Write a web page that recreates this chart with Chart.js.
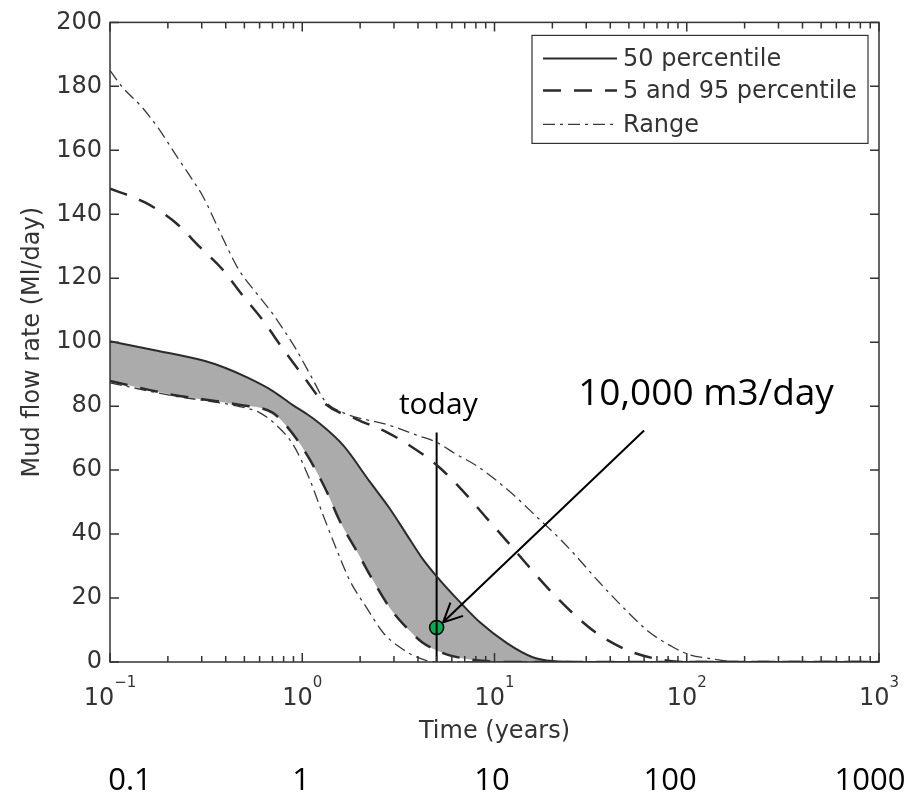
<!DOCTYPE html>
<html>
<head>
<meta charset="utf-8">
<title>Mud flow rate</title>
<script src="https://cdn.jsdelivr.net/npm/chart.js@4.4.1/dist/chart.umd.min.js"></script>
<style>
  html, body { margin: 0; padding: 0; background: #fff; }
  canvas { display: block; }
</style>
</head>
<body>
<canvas id="mudChart" width="923" height="796"></canvas>
<script>
// values: time in years, flow in Ml/day
const p50Years = [0.1, 0.171, 0.312, 0.396, 0.52, 0.70, 0.885, 1.07, 1.19, 1.63, 2.25, 2.85, 3.48, 4.2, 5.0, 6.6, 8.4, 11.6, 15.8, 20, 30, 1000];
const p50Flow  = [100.3, 97.5, 94.1, 92, 88.9, 84.8, 80.5, 77.3, 75.3, 67.8, 56.3, 48, 40, 32.5, 26.8, 18.8, 12.4, 5.9, 1.5, 0.3, 0, 0];

const p5Years = [0.1, 0.21, 0.46, 0.70, 0.80, 0.935, 1.09, 1.34, 1.57, 1.92, 2.34, 2.85, 3.48, 4.2, 5.4, 6.8, 9, 12, 1000];
const p5Flow  = [87.9, 83.6, 80.5, 78, 74.8, 69.7, 63.5, 53.3, 44, 34.7, 25.4, 17, 10.8, 6.2, 2.8, 1.2, 0.3, 0, 0];

const p95Years = [0.1, 0.152, 0.218, 0.294, 0.383, 0.49, 0.625, 0.79, 1.01, 1.3, 1.92, 2.76, 3.6, 5.0, 6.8, 9.1, 11.6, 15.3, 19.5, 25.6, 34, 49, 67, 100, 1000];
const p95Flow  = [148, 143.7, 137.5, 129.7, 122.9, 114.6, 106.8, 98.1, 89.5, 81, 75.9, 71.8, 67.8, 61.6, 53.7, 45, 37.8, 29.4, 22.3, 15.2, 9, 3.7, 1.2, 0, 0];

const rangeHiYears = [0.1, 0.115, 0.147, 0.178, 0.223, 0.267, 0.305, 0.383, 0.464, 0.58, 0.70, 0.81, 0.92, 1.12, 1.31, 1.63, 2.85, 3.95, 5.0, 6.3, 8.1, 12, 17.2, 21.9, 26.5, 35, 49, 64, 85, 104, 128, 190, 1000];
const rangeHiFlow  = [185, 180, 173.4, 167, 158, 151, 145.5, 133, 123, 115.2, 109, 103.4, 98.2, 89, 81.7, 78, 74, 70.9, 68.7, 65, 61.3, 53.3, 44.5, 38.5, 33.2, 25, 15.8, 9.3, 4.6, 2.2, 1.2, 0, 0];

const rangeLoYears = [0.1, 0.21, 0.46, 0.6, 0.75, 0.9, 1.09, 1.28, 1.52, 1.77, 2.16, 2.65, 3.22, 3.95, 5, 1000];
const rangeLoFlow  = [87.3, 83.3, 80, 78, 73.5, 67.8, 57.3, 46.1, 34.7, 25.4, 17, 9, 4.6, 1.5, 0, 0];

const legendLabels = ['50 percentile', '5 and 95 percentile', 'Range'];
const xMajorTicks = [0.1, 1, 10, 100, 1000];
const xTickExponents = ['\u22121', '0', '1', '2', '3'];

// annotations
const todayYears = 5;
const todayLineTop = 71.8;
const todayFlow = 10.8;            // 10,000 m3/day
const arrowFrom = { x: 60, y: 72.4 };
const arrowTo = { x: 5.4, y: 12.4 };
const todayLabel = { text: 'today', x: 5.1, y: 77.4 };
const rateLabel = { text: '10,000 m3/day', x: 126, y: 80.5 };
const bottomLabels = ['0.1', '1', '10', '100', '1000'];
const bottomLabelYears = [0.127, 0.985, 9.7, 82, 898];

const lineColor = '#2b2b2b';
const dashStyle = [18, 13];
const rangeDash = [12, 5, 3, 5];

function toPoints(xs, ys) {
    return xs.map((x, i) => ({ x: x, y: ys[i] }));
}

const curve = {
    pointRadius: 0,
    borderColor: lineColor,
    cubicInterpolationMode: 'monotone',
    fill: false
};

const extras = {
    id: 'extras',
    afterDatasetsDraw(chart) {
        const { ctx, chartArea: a, scales: { x, y } } = chart;
        ctx.save();

        // frame and inward ticks
        ctx.strokeStyle = '#333';
        ctx.lineWidth = 1.5;
        ctx.beginPath();
        x.ticks.forEach(t => {
            const px = x.getPixelForValue(t.value);
            const len = t.major ? 9 : 6;
            ctx.moveTo(px, a.bottom); ctx.lineTo(px, a.bottom - len);
            ctx.moveTo(px, a.top); ctx.lineTo(px, a.top + len);
        });
        y.ticks.forEach(t => {
            const py = y.getPixelForValue(t.value);
            ctx.moveTo(a.left, py); ctx.lineTo(a.left + 9, py);
            ctx.moveTo(a.right, py); ctx.lineTo(a.right - 9, py);
        });
        ctx.stroke();
        ctx.strokeRect(a.left, a.top, a.right - a.left, a.bottom - a.top);

        // x tick labels 10^n
        ctx.fillStyle = '#333';
        ctx.textBaseline = 'alphabetic';
        ctx.textAlign = 'left';
        xMajorTicks.forEach((v, i) => {
            const px = x.getPixelForValue(v);
            ctx.font = '24px "DejaVu Sans"';
            const wb = ctx.measureText('10').width;
            ctx.font = '15px "DejaVu Sans"';
            const ws = ctx.measureText(xTickExponents[i]).width;
            const x0 = px - (wb + ws) / 2;
            ctx.font = '24px "DejaVu Sans"';
            ctx.fillText('10', x0, a.bottom + 43);
            ctx.font = '15px "DejaVu Sans"';
            ctx.fillText(xTickExponents[i], x0 + wb, a.bottom + 25);
        });

        // legend
        const lx = a.right - 347, ly = a.top + 13;
        ctx.fillStyle = '#fff';
        ctx.fillRect(lx, ly, 336, 108);
        ctx.lineWidth = 1.2;
        ctx.strokeStyle = '#333';
        ctx.strokeRect(lx, ly, 336, 108);
        const rows = [23, 55, 89];
        const legendSets = [0, 1, 3];
        ctx.font = '24px "DejaVu Sans"';
        ctx.textBaseline = 'middle';
        legendSets.forEach((di, i) => {
            const ds = chart.data.datasets[di];
            const ry = ly + rows[i];
            ctx.strokeStyle = ds.borderColor;
            ctx.lineWidth = ds.borderWidth;
            ctx.setLineDash(ds.borderDash || []);
            ctx.beginPath();
            ctx.moveTo(lx + 11, ry);
            ctx.lineTo(lx + 85, ry);
            ctx.stroke();
            ctx.setLineDash([]);
            ctx.fillStyle = '#333';
            ctx.fillText(legendLabels[i], lx + 91, ry + 1);
        });

        // arrow to the green point
        const ax0 = x.getPixelForValue(arrowFrom.x), ay0 = y.getPixelForValue(arrowFrom.y);
        const ax1 = x.getPixelForValue(arrowTo.x), ay1 = y.getPixelForValue(arrowTo.y);
        const ang = Math.atan2(ay0 - ay1, ax0 - ax1);
        ctx.strokeStyle = '#000';
        ctx.lineWidth = 2;
        ctx.beginPath();
        ctx.moveTo(ax0, ay0);
        ctx.lineTo(ax1, ay1);
        ctx.moveTo(ax1 + 21 * Math.cos(ang - 0.45), ay1 + 21 * Math.sin(ang - 0.45));
        ctx.lineTo(ax1, ay1);
        ctx.lineTo(ax1 + 21 * Math.cos(ang + 0.45), ay1 + 21 * Math.sin(ang + 0.45));
        ctx.stroke();

        // annotation texts
        ctx.fillStyle = '#000';
        ctx.textAlign = 'center';
        ctx.textBaseline = 'alphabetic';
        ctx.font = '30px "Open Sans"';
        ctx.fillText(todayLabel.text, x.getPixelForValue(todayLabel.x), y.getPixelForValue(todayLabel.y));
        ctx.font = '37px "Open Sans"';
        ctx.fillText(rateLabel.text, x.getPixelForValue(rateLabel.x), y.getPixelForValue(rateLabel.y));
        ctx.font = '31px "Open Sans"';
        bottomLabels.forEach((s, i) => {
            ctx.fillText(s, x.getPixelForValue(bottomLabelYears[i]), a.bottom + 128);
        });

        ctx.restore();
    }
};

new Chart(document.getElementById('mudChart'), {
    type: 'line',
    data: {
        datasets: [
            Object.assign({}, curve, {
                label: legendLabels[0],
                data: toPoints(p50Years, p50Flow),
                borderWidth: 2,
                fill: { target: 1 },
                backgroundColor: '#ababab'
            }),
            Object.assign({}, curve, {
                label: '5 percentile',
                data: toPoints(p5Years, p5Flow),
                borderWidth: 2.5,
                borderDash: dashStyle
            }),
            Object.assign({}, curve, {
                label: '95 percentile',
                data: toPoints(p95Years, p95Flow),
                borderWidth: 2.5,
                borderDash: dashStyle
            }),
            Object.assign({}, curve, {
                label: 'Range max',
                data: toPoints(rangeHiYears, rangeHiFlow),
                borderWidth: 1.3,
                borderColor: '#3a3a3a',
                borderDash: rangeDash
            }),
            Object.assign({}, curve, {
                label: 'Range min',
                data: toPoints(rangeLoYears, rangeLoFlow),
                borderWidth: 1.3,
                borderColor: '#3a3a3a',
                borderDash: rangeDash
            }),
            {
                label: 'today',
                data: [{ x: todayYears, y: 0 }, { x: todayYears, y: todayLineTop }],
                borderColor: '#000',
                borderWidth: 2,
                pointRadius: 0,
                fill: false
            },
            {
                label: '10,000 m3/day',
                data: [{ x: todayYears, y: todayFlow }],
                showLine: false,
                pointRadius: 7,
                pointBackgroundColor: '#00b050',
                pointBorderColor: '#000',
                pointBorderWidth: 1.5
            }
        ]
    },
    options: {
        responsive: false,
        animation: false,
        events: [],
        layout: { padding: { top: 16, right: 44, left: 0, bottom: 0 } },
        plugins: {
            legend: { display: false },
            tooltip: { enabled: false },
            filler: { propagate: false, drawTime: 'beforeDatasetsDraw' }
        },
        scales: {
            x: {
                type: 'logarithmic',
                min: 0.1,
                max: 1000,
                grid: { display: false, drawTicks: false },
                border: { display: false },
                ticks: { display: false },
                afterBuildTicks: scale => {
                    const ticks = [];
                    xMajorTicks.slice(0, -1).forEach(dec => {
                        for (let m = 1; m < 10; m++) ticks.push({ value: m * dec, major: m === 1 });
                    });
                    ticks.push({ value: 1000, major: true });
                    scale.ticks = ticks;
                },
                afterFit: scale => { scale.height = 134; },
                title: {
                    display: true,
                    text: 'Time (years)',
                    color: '#333',
                    font: { family: 'DejaVu Sans', size: 24 },
                    padding: { top: 0, bottom: 50 }
                }
            },
            y: {
                min: 0,
                max: 200,
                grid: { display: false, drawTicks: false },
                border: { display: false },
                ticks: {
                    stepSize: 20,
                    padding: 8,
                    color: '#333',
                    font: { family: 'DejaVu Sans', size: 24 }
                },
                afterFit: scale => { scale.width = 110; },
                title: {
                    display: true,
                    text: 'Mud flow rate (Ml/day)',
                    color: '#333',
                    font: { family: 'DejaVu Sans', size: 24 },
                    padding: { top: 18, bottom: 0 }
                }
            }
        }
    },
    plugins: [extras]
});
</script>
</body>
</html>
